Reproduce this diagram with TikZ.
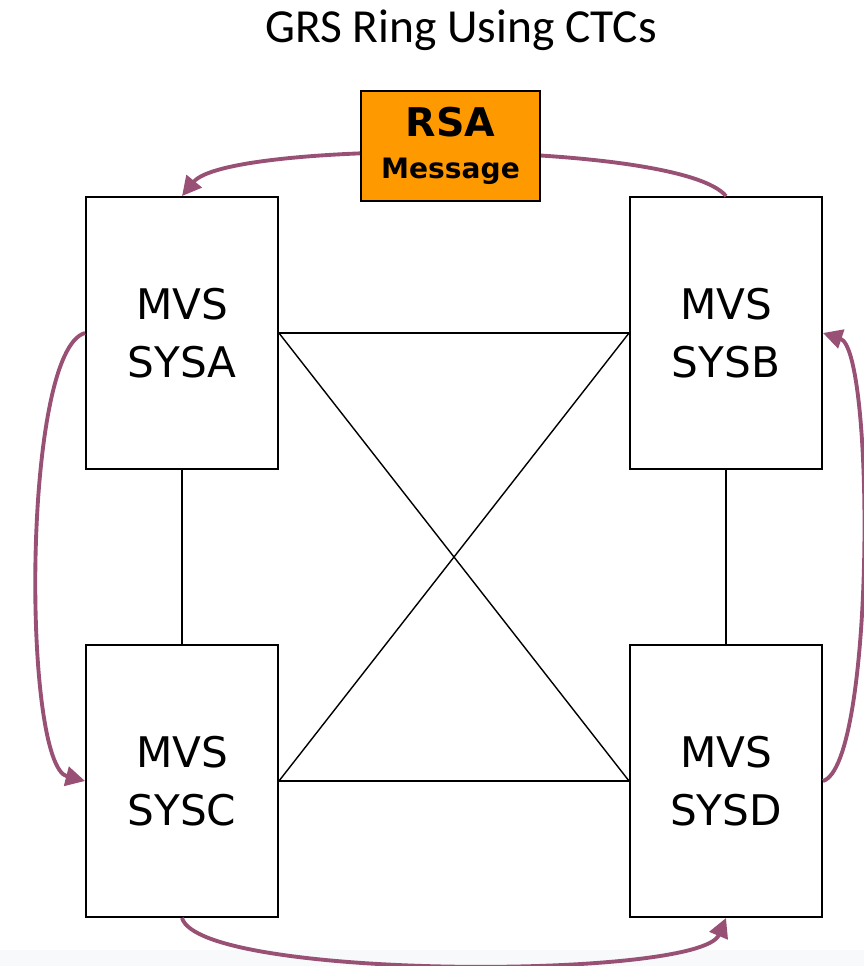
\documentclass[tikz,border=0pt]{standalone}
\usepackage{fontspec}
\setsansfont{DejaVu Sans}
\newfontfamily\titlefont{Carlito}
\usetikzlibrary{arrows.meta}

\definecolor{ringpurple}{RGB}{152,80,116}
\definecolor{msgorange}{RGB}{255,153,0}
\definecolor{bandgray}{RGB}{248,249,251}

\begin{document}
\begin{tikzpicture}[
    x=0.02cm, y=-0.02cm,
    % Styles
    sysbox/.style={% For the MVS systems
        rectangle,
        draw,
        line width=1.1pt,
        minimum width=3.84cm,
        minimum height=5.44cm,
        align=center,
        font=\sffamily\fontsize{24}{33}\selectfont
        },
    msgbox/.style={% For the RSA message
        rectangle,
        draw,
        fill=msgorange,
        line width=1.1pt,
        minimum width=3.58cm,
        minimum height=2.2cm,
        align=center,
        font=\sffamily\bfseries\fontsize{16}{24}\selectfont
        },
    ctc/.style={% Channel to channel links
        line width=0.8pt
        },
    ring/.style={% The GRS ring arrows
        ringpurple,
        line width=2.2pt,
        -{Triangle[length=11pt,width=11pt]}
        }
    ]

    % Fix the size of the page
    \useasboundingbox (0,0) rectangle (864,966);
    \fill [bandgray] (0,950) rectangle (864,966);

    % Title
    \node (title) at (461,30) {\titlefont\fontsize{27}{32}\selectfont GRS Ring Using CTCs};

    % Draw the systems
    \node [sysbox] (sysa) at (182,333) {MVS\\SYSA};
    \node [sysbox] (sysb) at (726,333) {MVS\\SYSB};
    \node [sysbox] (sysc) at (182,781) {MVS\\SYSC};
    \node [sysbox] (sysd) at (726,781) {MVS\\SYSD};

    % CTC links
    \draw [ctc] (sysa.east) -- (sysb.west);
    \draw [ctc] (sysc.east) -- (sysd.west);
    \draw [ctc] (sysa.east) -- (sysd.west);
    \draw [ctc] (sysb.west) -- (sysc.east);
    \draw [ctc] (sysa.south) -- (sysc.north);
    \draw [ctc] (sysb.south) -- (sysd.north);

    % The ring
    \draw [ring] (sysb.north) .. controls (680,140) and (228,140) .. (sysa.north);
    \draw [ring] (sysa.west) .. controls (22,350) and (22,765) .. (sysc.west);
    \draw [ring] (sysc.south) .. controls (200,980) and (700,980) .. (sysd.south);
    \draw [ring] (sysd.east) .. controls (875,765) and (875,350) .. (sysb.east);

    % The message on top of the ring
    \node [msgbox] (rsa) at (450.5,146) {{\fontsize{22.5}{24}\selectfont RSA}\\Message};

\end{tikzpicture}
\end{document}
